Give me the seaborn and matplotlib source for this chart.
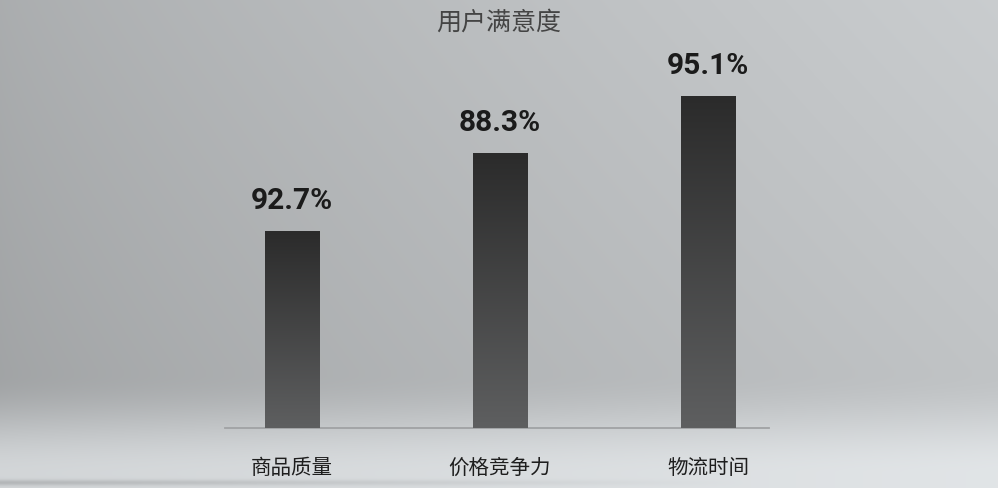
import numpy as np
import pandas as pd
import matplotlib
matplotlib.use("Agg")
import matplotlib.pyplot as plt
import seaborn as sns

# dados (alturas relativas das barras e rótulos exibidos)
categorias = ["商品质量", "价格竞争力", "物流时间"]
alturas = [59.3, 82.8, 100.0]
rotulos = ["92.7%", "88.3%", "95.1%"]
titulo = "用户满意度"

sns.set_style("white")
plt.rcParams["font.family"] = ["Noto Sans CJK SC", "DejaVu Sans"]

df = pd.DataFrame({"categoria": categorias, "altura": alturas})

fig = plt.figure(figsize=(9.98, 4.88), dpi=100)

# fundo em degradê cinza (parede + chão)
bg = fig.add_axes([0, 0, 1, 1], zorder=-10)
xx, yy = np.meshgrid(np.linspace(0, 1, 500), np.linspace(0, 1, 488))
parede = 0.685 + 0.125 * xx ** 0.8 - 0.035 * np.clip(yy / 0.76, 0, 1)
t = np.clip((yy - 0.77) / 0.2, 0, 1)
t = t * t * (3 - 2 * t)
chao = 0.845 + 0.06 * xx
val = parede + (chao - parede) * t
# sombra fina no rodapé
sombra = np.exp(-((yy - 0.99) / 0.006) ** 2) * 0.12 * np.clip(1 - xx / 0.75, 0, 1)
val = np.clip(val - sombra, 0, 1)
img = np.dstack([val * 0.975, val * 0.99, val * 1.0])
bg.imshow(np.clip(img, 0, 1), aspect="auto", extent=[0, 1, 1, 0])
bg.set_xlim(0, 1)
bg.set_ylim(1, 0)
bg.axis("off")

ax = fig.add_axes([0.2255, 0.123, 0.545, 0.754])
ax.patch.set_alpha(0)
sns.barplot(data=df, x="categoria", y="altura", width=0.26, color="#333333", ax=ax)

# degradê nas barras
grad = np.linspace(0, 1, 256).reshape(-1, 1)
cmap = matplotlib.colors.LinearSegmentedColormap.from_list("barra", ["#5e5f60", "#2b2b2b"])
for p in ax.patches:
    x0, y0 = p.get_x(), p.get_y()
    w, h = p.get_width(), p.get_height()
    im = ax.imshow(grad, cmap=cmap, aspect="auto", origin="lower",
                   extent=[x0, x0 + w, y0, y0 + h], zorder=3)
    im.set_clip_path(p)
    p.set_edgecolor("none")

for i, (h, r) in enumerate(zip(alturas, rotulos)):
    ax.annotate(r, (i, h), xytext=(0, 21.6), textcoords="offset points",
                ha="center", va="center", fontsize=21.5, fontweight="bold",
                color="#1b1b1b", family=["Roboto", "DejaVu Sans"])

ax.set_xlim(-0.322, 2.293)
ax.set_ylim(0, 100 * 368 / 332)
ax.set_xlabel("")
ax.set_ylabel("")
ax.set_yticks([])
ax.tick_params(axis="x", length=0, pad=21, labelsize=14.8, labelcolor="#1e1e1e")
for s in ["top", "right", "left"]:
    ax.spines[s].set_visible(False)
ax.spines["bottom"].set_color("#a0a2a4")
ax.spines["bottom"].set_linewidth(1.3)

fig.text(0.5, 1 - 23 / 488, titulo, ha="center", va="center", fontsize=18,
         color="#444444")

fig.savefig("out.png", dpi=100)
